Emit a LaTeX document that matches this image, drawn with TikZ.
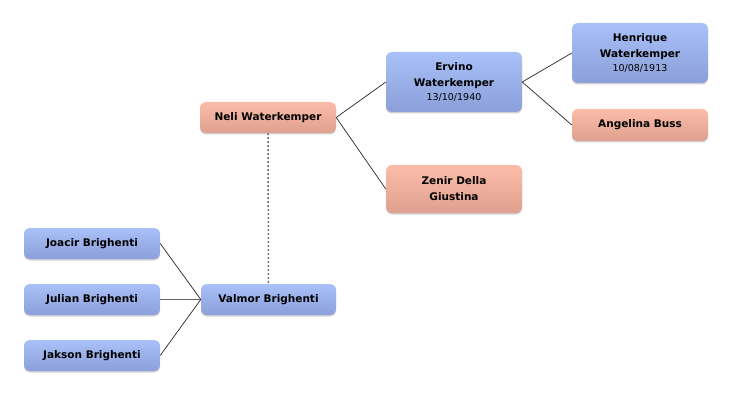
\documentclass[tikz,border=0pt]{standalone}
\usepackage{fontspec}
\setmainfont{DejaVu Sans}
\usetikzlibrary{shadows}
\definecolor{btop}{HTML}{A9C0F8}
\definecolor{bbot}{HTML}{8B9FD9}
\definecolor{ptop}{HTML}{FBBDA9}
\definecolor{pbot}{HTML}{DFA08F}
\tikzset{
  person/.style={rounded corners=6pt, minimum width=136pt, align=center,
    inner sep=0pt, font=\fontsize{10.5}{16}\selectfont\bfseries,
    drop shadow={shadow xshift=0pt, shadow yshift=-1.5pt, opacity=0.18, fill=black}},
  male/.style={person, top color=btop, bottom color=bbot},
  female/.style={person, top color=ptop, bottom color=pbot},
  link/.style={draw=black!85, line width=0.7pt},
  spouse/.style={draw=black!55, line width=1.5pt, dash pattern=on 2pt off 2pt}
}
\newcommand{\datetxt}[1]{{\fontsize{9.5}{12}\selectfont\mdseries #1}}
\begin{document}
\begin{tikzpicture}[x=1pt,y=-1pt]
\useasboundingbox (0,0) rectangle (732,396);
\node[male, minimum height=31pt] (joacir) at (92,243.5) {Joacir Brighenti};
\node[male, minimum height=31pt] (julian) at (92,299.5) {Julian Brighenti};
\node[male, minimum height=31pt] (jakson) at (92,355.5) {Jakson Brighenti};
\node[male, minimum height=31pt, minimum width=135pt] (valmor) at (268.5,299.5) {Valmor Brighenti};
\node[female, minimum height=31pt] (neli) at (268,117.5) {Neli Waterkemper};
\node[male, minimum height=60pt] (ervino) at (454,82) {Ervino\\Waterkemper\\[-2.5pt]\datetxt{13/10/1940}};
\node[female, minimum height=48pt] (zenir) at (454,189) {Zenir Della\\Giustina};
\node[male, minimum height=60pt] (henrique) at (640,53) {Henrique\\Waterkemper\\[-2.5pt]\datetxt{10/08/1913}};
\node[female, minimum height=32pt] (angelina) at (640,125) {Angelina Buss};
\draw[link] (joacir.east) -- (valmor.west);
\draw[link, line width=1.4pt, draw=black!60] (julian.east) -- (valmor.west);
\draw[link] (jakson.east) -- (valmor.west);
\draw[spouse] (neli.south) -- (valmor.north);
\draw[link] (neli.east) -- (ervino.west);
\draw[link] (neli.east) -- (zenir.west);
\draw[link] (ervino.east) -- (henrique.west);
\draw[link] (ervino.east) -- (angelina.west);
\end{tikzpicture}
\end{document}
